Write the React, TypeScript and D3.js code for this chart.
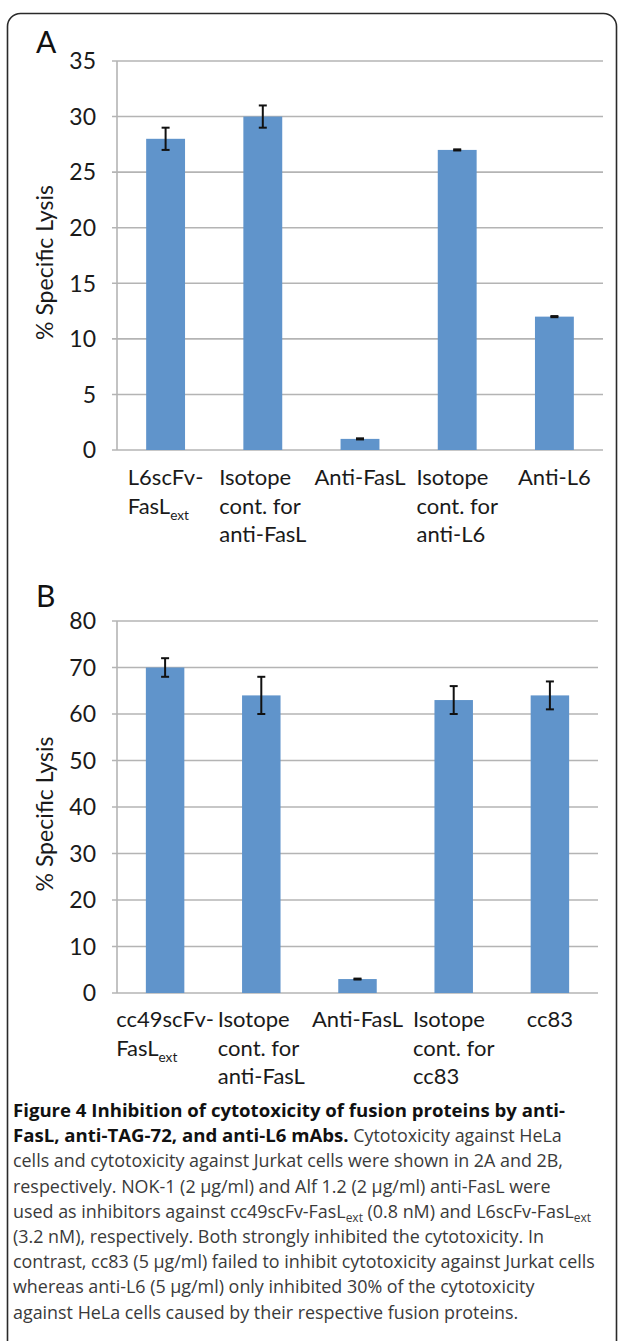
import React, { useEffect, useRef } from "react";
import * as d3 from "d3";

// panel A - HeLa cells
const catsA = [
  ["L6scFv-", "FasL_ext"],
  ["Isotope", "cont. for", "anti-FasL"],
  ["Anti-FasL"],
  ["Isotope", "cont. for", "anti-L6"],
  ["Anti-L6"],
];
const valsA = [28, 30, 1, 27, 12];
const errA = [1, 1, 0.05, 0.05, 0.05];
const ticksA = [0, 5, 10, 15, 20, 25, 30, 35];

// panel B - Jurkat cells
const catsB = [
  ["cc49scFv-", "FasL_ext"],
  ["Isotope", "cont. for", "anti-FasL"],
  ["Anti-FasL"],
  ["Isotope", "cont. for", "cc83"],
  ["cc83"],
];
const valsB = [70, 64, 3, 63, 64];
const errB = [2, 4, 0.1, 3, 3];
const ticksB = [0, 10, 20, 30, 40, 50, 60, 70, 80];

const yTitle = "% Specific Lysis";

// b = bold, n = normal, s = subscript
const caption = [
  [["b", "Figure 4 Inhibition of cytotoxicity of fusion proteins by anti-"]],
  [["b", "FasL, anti-TAG-72, and anti-L6 mAbs."], ["n", " Cytotoxicity against HeLa"]],
  [["n", "cells and cytotoxicity against Jurkat cells were shown in 2A and 2B,"]],
  [["n", "respectively. NOK-1 (2 µg/ml) and Alf 1.2 (2 µg/ml) anti-FasL were"]],
  [["n", "used as inhibitors against cc49scFv-FasL"], ["s", "ext"], ["n", " (0.8 nM) and L6scFv-FasL"], ["s", "ext"]],
  [["n", "(3.2 nM), respectively. Both strongly inhibited the cytotoxicity. In"]],
  [["n", "contrast, cc83 (5 µg/ml) failed to inhibit cytotoxicity against Jurkat cells"]],
  [["n", "whereas anti-L6 (5 µg/ml) only inhibited 30% of the cytotoxicity"]],
  [["n", "against HeLa cells caused by their respective fusion proteins."]],
];

const W = 619,
  H = 1341;
const chartFont = "Lato, 'Open Sans', sans-serif";
const barColor = "#6094cb";
const gridColor = "#b4b4b4";

const panels = [
  { letter: "A", cats: catsA, vals: valsA, errs: errA, ticks: ticksA, max: 35, top: 61, bottom: 450, left: 117, right: 603, labY: 485, letY: 53 },
  { letter: "B", cats: catsB, vals: valsB, errs: errB, ticks: ticksB, max: 80, top: 621, bottom: 993, left: 117, right: 598, labY: 1027, letY: 607 },
];

const addLine = (text, str) => {
  const parts = str.split("_");
  text.append("tspan").text(parts[0]);
  if (parts[1]) {
    text.append("tspan").attr("font-size", "0.62em").attr("dy", 6).text(parts[1]);
  }
};

const App = () => {
  const ref = useRef(null);

  useEffect(() => {
    const svg = d3.select(ref.current);
    svg.selectAll("*").remove();

    svg.append("rect").attr("width", W).attr("height", H).attr("fill", "#fff");
    svg
      .append("rect")
      .attr("x", 7.5)
      .attr("y", 13.5)
      .attr("width", 609)
      .attr("height", 1350)
      .attr("rx", 13)
      .attr("fill", "none")
      .attr("stroke", "#2a2a2a")
      .attr("stroke-width", 1.6);

    panels.forEach((p) => {
      const g = svg.append("g").attr("font-family", chartFont);
      const y = d3.scaleLinear().domain([0, p.max]).range([p.bottom, p.top]);
      const x = d3
        .scaleBand()
        .domain(p.cats.map((_, i) => i))
        .range([p.left, p.right])
        .paddingInner(0.6)
        .paddingOuter(0.3);

      g.selectAll(".grid")
        .data(p.ticks)
        .enter()
        .append("line")
        .attr("x1", p.left - 5)
        .attr("x2", p.right)
        .attr("y1", (d) => y(d))
        .attr("y2", (d) => y(d))
        .attr("stroke", gridColor)
        .attr("stroke-width", 1.6);

      g.append("line")
        .attr("x1", p.left)
        .attr("x2", p.left)
        .attr("y1", p.top)
        .attr("y2", p.bottom)
        .attr("stroke", gridColor)
        .attr("stroke-width", 1.6);

      g.selectAll(".tick")
        .data(p.ticks)
        .enter()
        .append("text")
        .attr("x", p.left - 21)
        .attr("y", (d) => y(d))
        .attr("dy", "0.36em")
        .attr("text-anchor", "end")
        .attr("font-size", 23)
        .attr("fill", "#1a1a1a")
        .text((d) => d);

      g.selectAll(".bar")
        .data(p.vals)
        .enter()
        .append("rect")
        .attr("x", (_, i) => x(i))
        .attr("y", (d) => y(d))
        .attr("width", x.bandwidth())
        .attr("height", (d) => p.bottom - y(d))
        .attr("fill", barColor);

      p.vals.forEach((v, i) => {
        const cx = x(i) + x.bandwidth() / 2;
        const e = p.errs[i];
        const eg = g.append("g").attr("stroke", "#111").attr("stroke-width", 2);
        eg.append("line").attr("x1", cx).attr("x2", cx).attr("y1", y(v - e)).attr("y2", y(v + e));
        [v - e, v + e].forEach((yy) =>
          eg.append("line").attr("x1", cx - 4).attr("x2", cx + 4).attr("y1", y(yy)).attr("y2", y(yy))
        );
      });

      // category labels, lines left aligned, block centred on the bar
      p.cats.forEach((lines, i) => {
        const cx = x(i) + x.bandwidth() / 2;
        const texts = lines.map((ln, j) => {
          const t = g
            .append("text")
            .attr("y", p.labY + j * 28.5)
            .attr("font-size", 22)
            .attr("fill", "#1a1a1a");
          addLine(t, ln);
          return t;
        });
        const wMax = d3.max(texts, (t) => t.node().getComputedTextLength());
        texts.forEach((t) => t.attr("x", cx - wMax / 2));
      });

      g.append("text")
        .attr("transform", `translate(45,${(p.top + p.bottom) / 2 + 7}) rotate(-90)`)
        .attr("text-anchor", "middle")
        .attr("dy", "0.35em")
        .attr("font-size", 23)
        .attr("fill", "#1a1a1a")
        .text(yTitle);

      g.append("text")
        .attr("x", 36)
        .attr("y", p.letY)
        .attr("font-size", 30)
        .attr("fill", "#111")
        .text(p.letter);
    });

    const cap = svg.append("g").attr("font-family", "'Open Sans', sans-serif").attr("font-size", 17.9);
    caption.forEach((segs, i) => {
      const t = cap.append("text").attr("x", 13).attr("y", 1117 + i * 25.2).attr("fill", "#3a3a3a");
      segs.forEach(([kind, str], k) => {
        const ts = t.append("tspan").text(str);
        if (kind === "b") ts.attr("font-weight", "bold").attr("font-size", 18.6).attr("fill", "#111");
        if (kind === "s") ts.attr("font-size", 12).attr("dy", 4);
        if (k > 0 && segs[k - 1][0] === "s" && kind !== "s") ts.attr("dy", -4);
      });
    });
  }, []);

  return (
    <svg
      ref={ref}
      width={W}
      height={H}
      style={{ position: "absolute", left: 0, top: 0, display: "block" }}
    />
  );
};

export default App;
